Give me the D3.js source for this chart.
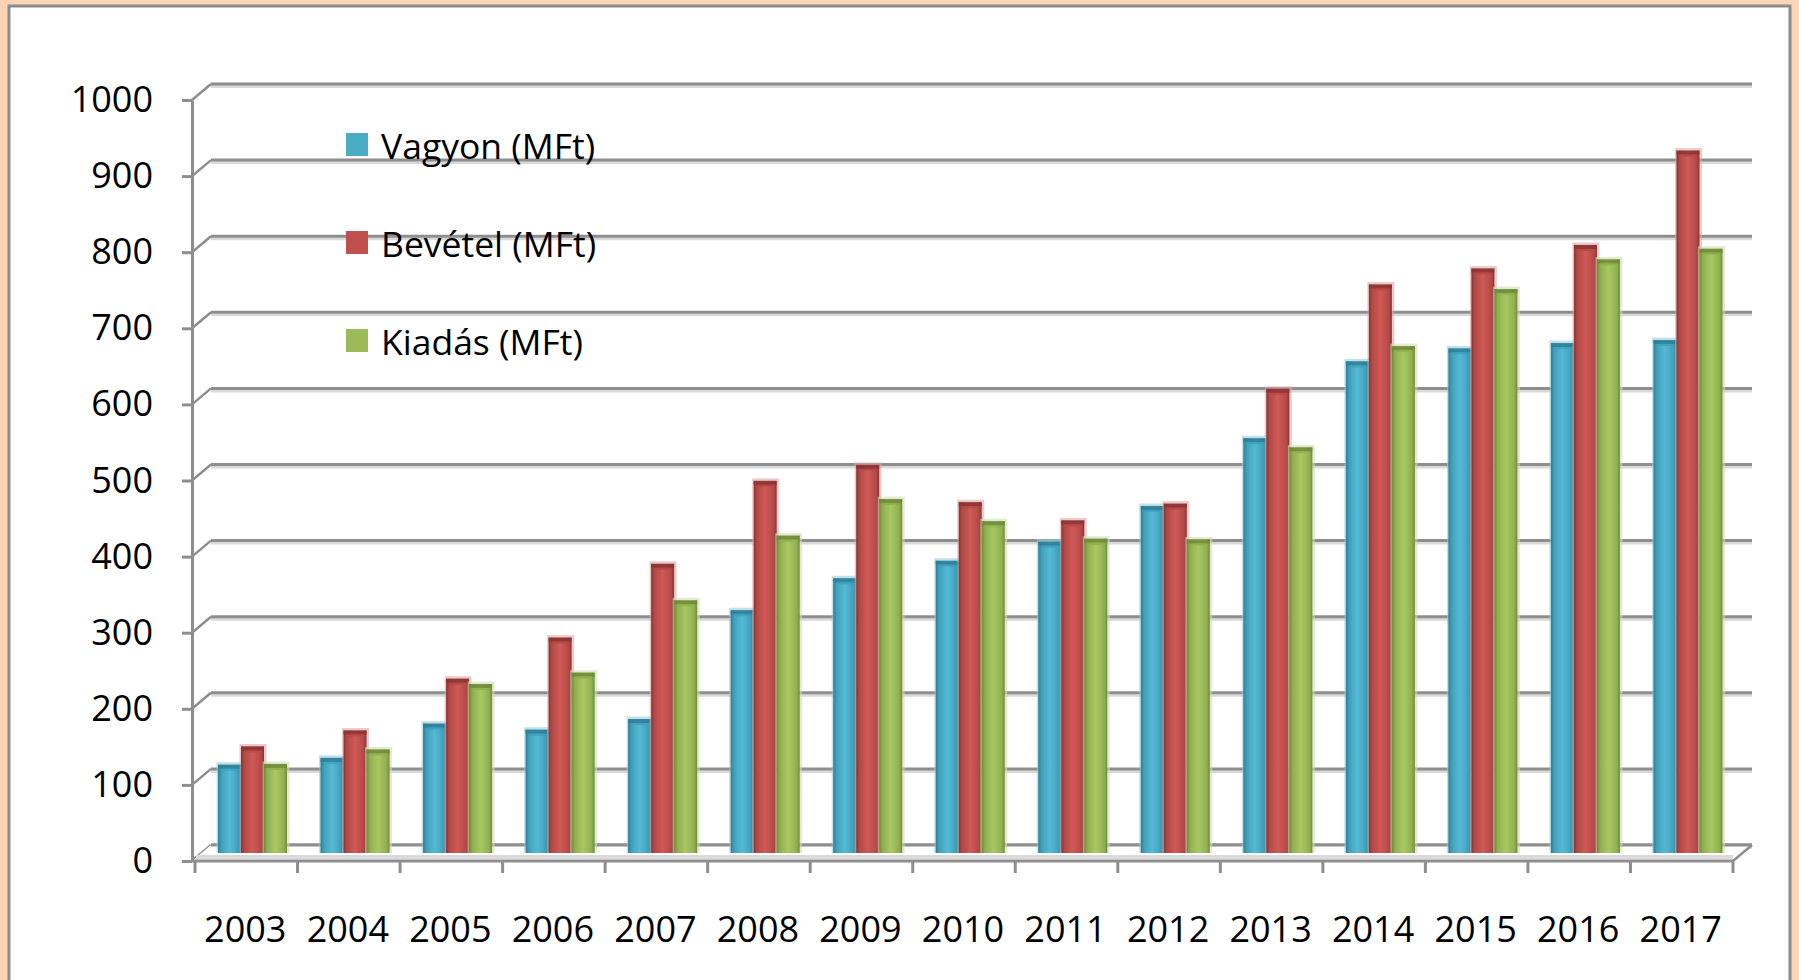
<!DOCTYPE html>
<html>
<head>
<meta charset="utf-8">
<script src="https://cdn.jsdelivr.net/npm/d3@7/dist/d3.min.js"></script>
<style>
  html, body { margin: 0; padding: 0; background: #fbd5b5; }
  svg { display: block; }
  text { font-family: "Open Sans", sans-serif; fill: #000; }
</style>
</head>
<body>
<div id="chart"></div>
<script>
// data
const years = ['2003','2004','2005','2006','2007','2008','2009','2010','2011','2012','2013','2014','2015','2016','2017'];
const vagyon  = [116, 125, 170, 162, 176, 319, 361, 384, 409, 456, 545, 646, 663, 670, 674];
const bevetel = [140, 161, 229, 283, 380, 489, 510, 461, 437, 459, 610, 747, 768, 799, 923];
const kiadas  = [117, 136, 222, 237, 332, 417, 465, 436, 413, 412, 533, 666, 741, 780, 794];
const seriesNames = ['Vagyon (MFt)', 'Bevétel (MFt)', 'Kiadás (MFt)'];
const yTicks = [0, 100, 200, 300, 400, 500, 600, 700, 800, 900, 1000];

const series = [
  { name: seriesNames[0], values: vagyon,  color: '#4bacc6', dark: '#2c7f97', light: '#53b9d6', mid: '#3f9fba', halo: '#9fc9d6' },
  { name: seriesNames[1], values: bevetel, color: '#c0504d', dark: '#8c3331', light: '#d05956', mid: '#b04a47', halo: '#d8aaa9' },
  { name: seriesNames[2], values: kiadas,  color: '#9bbb59', dark: '#6f8a38', light: '#a8c863', mid: '#8fae50', halo: '#cfdcb6' }
];

const W = 1799, H = 980;
const depth = { dx: 19, dy: -16 };

const svg = d3.select('#chart').append('svg')
  .attr('width', W).attr('height', H);

// frame
svg.append('rect').attr('x', 0).attr('y', 0).attr('width', W).attr('height', H).attr('fill', '#fbd5b5');
svg.append('rect').attr('x', 9).attr('y', 6).attr('width', 1781).attr('height', H)
  .attr('fill', '#fff').attr('stroke', '#8c8c8c').attr('stroke-width', 3);

// scales
const x = d3.scaleBand().domain(years).range([195, 1733]);
const y = d3.scaleLinear().domain([0, 1000]).range([861, 100]);
const inner = d3.scaleBand().domain(d3.range(3)).range([23, 92]);

// gradients for cylinder look
const defs = svg.append('defs');
series.forEach((s, i) => {
  const g = defs.append('linearGradient').attr('id', 'grad' + i)
    .attr('x1', '0%').attr('x2', '100%').attr('y1', '0%').attr('y2', '0%');
  [[0, s.dark], [0.14, s.mid], [0.3, s.color], [0.5, s.light], [0.72, s.color], [0.88, s.mid], [1, s.dark]]
    .forEach(([o, c]) => g.append('stop').attr('offset', o).attr('stop-color', c));
});

// back wall gridlines
const grid = svg.append('g');
yTicks.forEach(v => {
  const yb = y(v) + depth.dy;
  grid.append('line')
    .attr('x1', x.range()[0] - 3 + depth.dx).attr('x2', x.range()[1] + depth.dx)
    .attr('y1', yb + 2.5).attr('y2', yb + 2.5)
    .attr('stroke', '#d9d9d9').attr('stroke-width', 3);
  grid.append('line')
    .attr('x1', x.range()[0] - 3 + depth.dx).attr('x2', x.range()[1] + depth.dx)
    .attr('y1', yb).attr('y2', yb)
    .attr('stroke', '#8e8e8e').attr('stroke-width', 3);
  // side diagonal
  grid.append('line')
    .attr('x1', 192).attr('y1', y(v))
    .attr('x2', 192 + depth.dx).attr('y2', yb)
    .attr('stroke', '#8e8e8e').attr('stroke-width', 2.5);
});

// floor
const x0 = 192, x1 = x.range()[1];
svg.append('path')
  .attr('d', `M${x0},${y(0)} L${x0 + depth.dx},${y(0) + depth.dy} L${x1 + depth.dx},${y(0) + depth.dy} L${x1},${y(0)} Z`)
  .attr('fill', '#fff');
svg.append('line').attr('x1', x0 + 4).attr('x2', x1).attr('y1', y(0) - 4).attr('y2', y(0) - 4)
  .attr('stroke', '#dadada').attr('stroke-width', 4);
svg.append('line').attr('x1', x0 + depth.dx).attr('x2', x1 + depth.dx)
  .attr('y1', y(0) + depth.dy).attr('y2', y(0) + depth.dy)
  .attr('stroke', '#8e8e8e').attr('stroke-width', 3);
svg.append('line').attr('x1', x1).attr('y1', y(0)).attr('x2', x1 + depth.dx).attr('y2', y(0) + depth.dy)
  .attr('stroke', '#8e8e8e').attr('stroke-width', 2.5);

// bars at mid depth
const bars = svg.append('g');
years.forEach((yr, j) => {
  series.forEach((s, i) => {
    const v = s.values[j];
    const bx = x(yr) + inner(i);
    const bw = inner.bandwidth();
    const top = y(v) + depth.dy / 2;
    const base = y(0) + depth.dy / 2;
    const g = bars.append('g');
    // soft halo
    g.append('rect').attr('x', bx - 1.5).attr('y', top - 2.5)
      .attr('width', bw + 4).attr('height', base - top + 2.5)
      .attr('fill', s.halo).attr('opacity', 0.6);
    g.append('rect').attr('x', bx).attr('y', top)
      .attr('width', bw).attr('height', base - top)
      .attr('fill', `url(#grad${i})`);
    // top cap
    g.append('rect').attr('x', bx).attr('y', top)
      .attr('width', bw).attr('height', 4)
      .attr('fill', s.dark).attr('opacity', 0.85);
    g.append('rect').attr('x', bx + 3).attr('y', top + 4)
      .attr('width', bw - 6).attr('height', 2)
      .attr('fill', s.mid).attr('opacity', 0.8);
  });
});

// front floor edge
svg.append('line').attr('x1', x0).attr('x2', x1).attr('y1', y(0)).attr('y2', y(0))
  .attr('stroke', '#8e8e8e').attr('stroke-width', 3);

// y axis
const yAxis = svg.append('g')
  .attr('transform', `translate(${x0},0)`)
  .call(d3.axisLeft(y).tickValues(yTicks).tickFormat(d3.format('d'))
    .tickSize(10).tickSizeOuter(0).tickPadding(29));
yAxis.select('.domain').attr('stroke', '#8e8e8e').attr('stroke-width', 3);
yAxis.selectAll('.tick line').attr('stroke', '#8e8e8e').attr('stroke-width', 3);
yAxis.selectAll('.tick text')
  .style('font-family', '"Open Sans", sans-serif')
  .style('font-size', '36px').attr('fill', '#000');

// x axis: ticks between categories
const bounds = years.map(d => x(d)).concat([x.range()[1]]);
svg.append('g').selectAll('line').data(bounds).join('line')
  .attr('x1', d => d).attr('x2', d => d)
  .attr('y1', y(0)).attr('y2', y(0) + 12)
  .attr('stroke', '#8e8e8e').attr('stroke-width', 3);
svg.append('g').selectAll('text').data(years).join('text')
  .attr('x', d => x(d) + x.bandwidth() / 2 - 1)
  .attr('y', 928)
  .attr('text-anchor', 'middle')
  .attr('dominant-baseline', 'central')
  .style('font-size', '36px')
  .text(d => d);

// legend
const legendY = [145, 243, 341];
const legend = svg.append('g');
series.forEach((s, i) => {
  legend.append('rect').attr('x', 346).attr('y', legendY[i] - 12)
    .attr('width', 22).attr('height', 23).attr('fill', s.color);
  legend.append('text').attr('x', 381).attr('y', legendY[i])
    .attr('dominant-baseline', 'central')
    .style('font-size', '35.5px')
    .text(s.name);
});
</script>
</body>
</html>
